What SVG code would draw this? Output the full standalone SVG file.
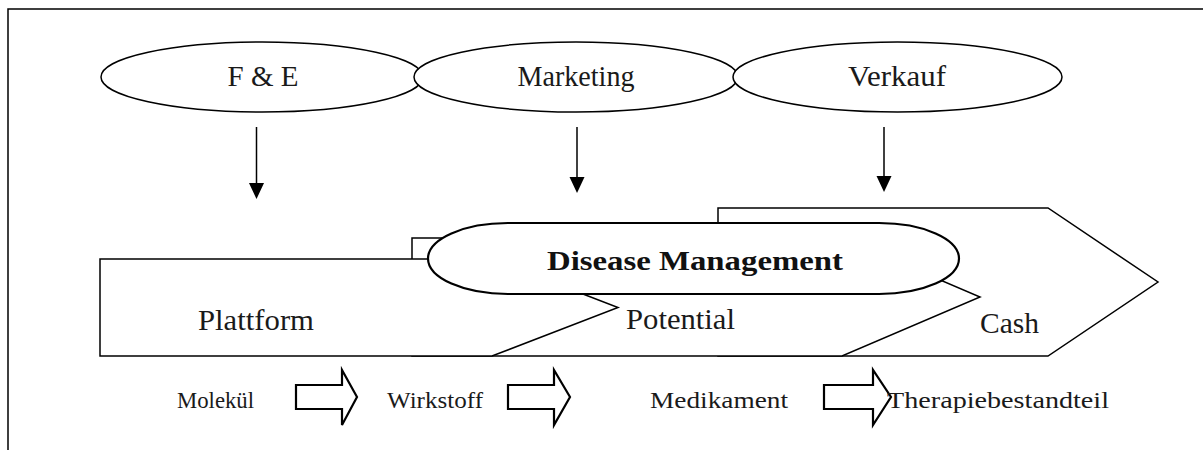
<svg xmlns="http://www.w3.org/2000/svg" width="1203" height="450" viewBox="0 0 1203 450">
<style>
.ln{fill:none;stroke:#000;stroke-width:1.5}
.sh{fill:#fff;stroke:#000;stroke-width:1.5}
.big{font-family:"Liberation Serif",serif;font-size:29px;fill:#1a1a1a}
.sm{font-family:"Liberation Serif",serif;font-size:24px;fill:#1a1a1a}
.bold{font-family:"Liberation Serif",serif;font-size:28px;font-weight:bold;fill:#111}
.blk{fill:#fff;stroke:#000;stroke-width:2.2}
.hd{fill:#000}
</style>
<rect width="1203" height="450" fill="#fff"/>
<g id="frame"><path class="ln" d="M8,450 V9 H1203"/></g>

<g id="cash"><path class="sh" d="M718,208 H1048 L1158,282 L1048,356 H718 Z"/><text class="big" x="980" y="333" textLength="59" lengthAdjust="spacingAndGlyphs">Cash</text></g>
<g id="potential"><path class="sh" d="M412,238 H842 L980,297 L842,356 H412 Z"/><text class="big" x="626" y="329" textLength="109" lengthAdjust="spacingAndGlyphs">Potential</text></g>
<g id="plattform"><path class="sh" d="M100,259 H492 L618,307.5 L492,356 H100 Z"/><text class="big" x="198" y="330" textLength="116" lengthAdjust="spacingAndGlyphs">Plattform</text></g>
<g id="disease"><rect class="sh" x="428" y="223" width="531" height="71" rx="80" ry="35.5" style="stroke-width:2.2"/><text class="bold" x="547" y="270" textLength="296" lengthAdjust="spacingAndGlyphs">Disease Management</text></g>

<g id="fe"><ellipse class="sh" cx="262" cy="77" rx="161" ry="35"/><text class="big" x="263" y="86" text-anchor="middle">F &amp; E</text></g>
<g id="marketing"><ellipse class="sh" cx="576" cy="77" rx="162" ry="35"/><text class="big" x="576" y="86" text-anchor="middle" textLength="117" lengthAdjust="spacingAndGlyphs">Marketing</text></g>
<g id="verkauf"><ellipse class="sh" cx="897.5" cy="77" rx="164.5" ry="35"/><text class="big" x="897" y="86" text-anchor="middle" textLength="98" lengthAdjust="spacingAndGlyphs">Verkauf</text></g>

<g id="connectors">
<line class="ln" x1="256.5" y1="127" x2="256.5" y2="185" stroke-width="2"/>
<path class="hd" d="M249,183 H264 L256.5,199 Z"/>
<line class="ln" x1="577" y1="127" x2="577" y2="179" stroke-width="2"/>
<path class="hd" d="M569.5,177 H584.5 L577,193 Z"/>
<line class="ln" x1="884" y1="127" x2="884" y2="178" stroke-width="2"/>
<path class="hd" d="M876.5,176 H891.5 L884,192 Z"/>
</g>

<g id="flow">
<text class="sm" x="177" y="408" textLength="77" lengthAdjust="spacingAndGlyphs">Molekül</text>
<path class="blk" d="M296,385 H342 V370 L357,397 L342,425 V409 H296 Z"/>
<text class="sm" x="387" y="408" textLength="96" lengthAdjust="spacingAndGlyphs">Wirkstoff</text>
<path class="blk" d="M508,385 H554 V370 L570,397 L554,425 V409 H508 Z"/>
<text class="sm" x="650" y="408" textLength="138" lengthAdjust="spacingAndGlyphs">Medikament</text>
<path class="blk" d="M824,385 H873 V370 L891,397 L873,425 V409 H824 Z"/>
<text class="sm" x="887" y="408" textLength="222" lengthAdjust="spacingAndGlyphs">Therapiebestandteil</text>
</g>
</svg>
